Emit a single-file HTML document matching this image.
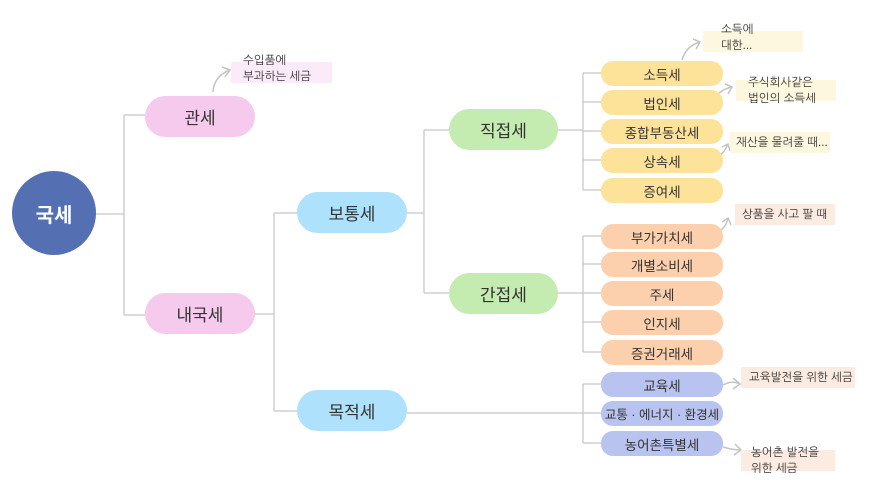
<!DOCTYPE html>
<html><head><meta charset="utf-8"><style>
*{margin:0;padding:0;box-sizing:border-box}
body{width:880px;height:498px;background:#fff;position:relative;overflow:hidden;font-family:"Liberation Sans","Noto Sans CJK KR",sans-serif;color:#333}
.p{position:absolute;border-radius:21px;display:flex;align-items:center;justify-content:center;font-size:17px}
.s{position:absolute;border-radius:12px;display:flex;align-items:center;justify-content:center;font-size:13.5px;width:122px;height:25px;left:601px}
.n{position:absolute;font-size:11.5px;line-height:16px;color:#333;font-family:"Liberation Sans","NanumGothic","Noto Sans CJK KR",sans-serif}
.y{background:#fde39a}.o{background:#fcd0ac}.b{background:#b9c3ef}
svg{position:absolute;left:0;top:0}
</style></head><body>
<svg width="880" height="498">
<g stroke="#c8c8c8" stroke-width="1.3" fill="none">
<path d="M96 214H124M124 115V315M124 115H145M124 315H145"/>
<path d="M255 314H274M274 213V411M274 213H297M274 411H297"/>
<path d="M407 213H424M424 130V293M424 130H449M424 293H449"/>
<path d="M558 130H583M583 73V190M583 73H601M583 102H601M583 131H601M583 160H601M583 190H601"/>
<path d="M558 293H583M583 236V352M583 236H601M583 264H601M583 293H601M583 322H601M583 352H601"/>
<path d="M407 413H601M583 384V443M583 384H601M583 443H601"/>
</g>
<g stroke="#c4c4c4" stroke-width="1.5" fill="none">
<path d="M213 92Q214 76 230 70M222 67L230 70L225 77"/>
<path d="M682 60Q686 46 700 42M693 39L700 42L696 49"/>
<path d="M713 102Q718 90 732 87M725 84L732 87L728 94"/>
<path d="M710 160Q722 158 728 144M722 147L728 144L730 151"/>
<path d="M712 233Q725 232 728 218M722 222L728 218L731 225"/>
<path d="M723 385Q732 380 740 384M733 378L740 384L733 389"/>
<path d="M723 447Q733 450 741 450M735 444L741 450L734 455"/>
</g>
</svg>
<div class="p" style="left:12px;top:171px;width:84px;height:84px;border-radius:50%;background:#5470b3;color:#fff;font-size:20px;font-weight:bold">국세</div>
<div class="p" style="left:145px;top:96px;width:110px;height:41px;background:#f6caec">관세</div>
<div class="p" style="left:145px;top:293px;width:110px;height:41px;background:#f6caec">내국세</div>
<div class="p" style="left:297px;top:192px;width:110px;height:41px;background:#aee1fb">보통세</div>
<div class="p" style="left:297px;top:390px;width:110px;height:41px;background:#aee1fb">목적세</div>
<div class="p" style="left:449px;top:109px;width:109px;height:41px;background:#c4ebb0">직접세</div>
<div class="p" style="left:449px;top:273px;width:109px;height:41px;background:#c4ebb0">간접세</div>
<div class="s y" style="top:61px">소득세</div>
<div class="s y" style="top:90px">법인세</div>
<div class="s y" style="top:119px">종합부동산세</div>
<div class="s y" style="top:148px">상속세</div>
<div class="s y" style="top:178px">증여세</div>
<div class="s o" style="top:224px">부가가치세</div>
<div class="s o" style="top:252px">개별소비세</div>
<div class="s o" style="top:281px">주세</div>
<div class="s o" style="top:310px">인지세</div>
<div class="s o" style="top:340px">증권거래세</div>
<div class="s b" style="top:372px">교육세</div>
<div class="s b" style="top:401px;font-size:12.5px">교통 · 에너지 · 환경세</div>
<div class="s b" style="top:431px">농어촌특별세</div>
<div class="n" style="left:231px;top:62px;width:101px;height:21px;background:#fbeaf7"></div>
<div class="n" style="left:243px;top:53px">수입품에<br>부과하는 세금</div>
<div class="n" style="left:703px;top:31px;width:100px;height:21px;background:#fdf7df"></div>
<div class="n" style="left:721px;top:22px">소득에<br>대한...</div>
<div class="n" style="left:736px;top:80px;width:100px;height:21px;background:#fdf7df"></div>
<div class="n" style="left:748px;top:75px">주식회사같은<br>법인의 소득세</div>
<div class="n" style="left:730px;top:132px;width:100px;height:21px;background:#fdf7df;padding:3px 0 0 6px">재산을 물려줄 때...</div>
<div class="n" style="left:735px;top:204px;width:100px;height:21px;background:#fcebe0;padding:3px 0 0 7px">상품을 사고 팔 때</div>
<div class="n" style="left:741px;top:367px;width:114px;height:21px;background:#fcebe0;padding:3px 0 0 8px">교육발전을 위한 세금</div>
<div class="n" style="left:741px;top:450px;width:94px;height:21px;background:#fcebe0"></div>
<div class="n" style="left:751px;top:445px">농어촌 발전을<br>위한 세금</div>
</body></html>
